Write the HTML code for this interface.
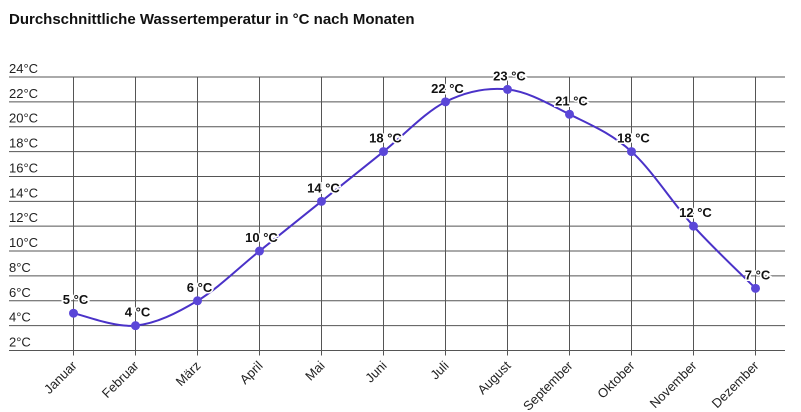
<!DOCTYPE html>
<html><head><meta charset="utf-8"><style>
body{margin:0;background:#fff;width:801px;height:412px;overflow:hidden}
svg{display:block;font-family:"Liberation Sans",Arial,sans-serif}
</style></head><body>
<svg id="c" width="801" height="412" xmlns="http://www.w3.org/2000/svg">
<text x="9" y="24" font-size="15" font-weight="bold" fill="#111">Durchschnittliche Wassertemperatur in °C nach Monaten</text>
<g id="g"></g>
</svg>
<script>
var ns="http://www.w3.org/2000/svg",g=document.getElementById('g');
function el(t,a,txt){var e=document.createElementNS(ns,t);for(var k in a)e.setAttribute(k,a[k]);if(txt!=null)e.textContent=txt;g.appendChild(e);return e;}
var top0=77,bot=350.5,per=(bot-top0)/22;
function Y(v){return bot-(v-2)*per;}
function X(i){return 73.5+62*i;}
for(var v=2;v<=24;v+=2){var y=Y(v);el('line',{x1:9,x2:785,y1:y,y2:y,stroke:'#555','stroke-width':1});el('text',{x:9,y:y-4,'font-size':13,fill:'#222'},v+'°C');}
var m=['Januar','Februar','März','April','Mai','Juni','Juli','August','September','Oktober','November','Dezember'];
for(var i=0;i<12;i++){var x=X(i);el('line',{x1:x,x2:x,y1:top0,y2:bot+5,stroke:'#555','stroke-width':1});
el('text',{x:x+4,y:bot+16,'font-size':13,fill:'#222','text-anchor':'end',transform:'rotate(-45 '+(x+4)+' '+(bot+16)+')'},m[i]);}
var d=[5,4,6,10,14,18,22,23,21,18,12,7];
var p=d.map(function(v,i){return [X(i),Y(v)]});
var s='M'+p[0][0]+','+p[0][1];
for(var i=0;i<11;i++){var p0=p[Math.max(i-1,0)],p1=p[i],p2=p[i+1],p3=p[Math.min(i+2,11)];
var c1=[p1[0]+(p2[0]-p0[0])/6,p1[1]+(p2[1]-p0[1])/6],c2=[p2[0]-(p3[0]-p1[0])/6,p2[1]-(p3[1]-p1[1])/6];
s+=' C'+c1+' '+c2+' '+p2;}
el('path',{d:s,fill:'none',stroke:'#4a32c8','stroke-width':2});
for(var i=0;i<12;i++){el('circle',{cx:p[i][0],cy:p[i][1],r:4.5,fill:'#5b47d8'});
el('text',{x:p[i][0]+2,y:p[i][1]-9,'font-size':13,'font-weight':'bold','text-anchor':'middle',fill:'#111',stroke:'#fff','stroke-width':3,'paint-order':'stroke'},d[i]+' °C');}
</script>
</body></html>
